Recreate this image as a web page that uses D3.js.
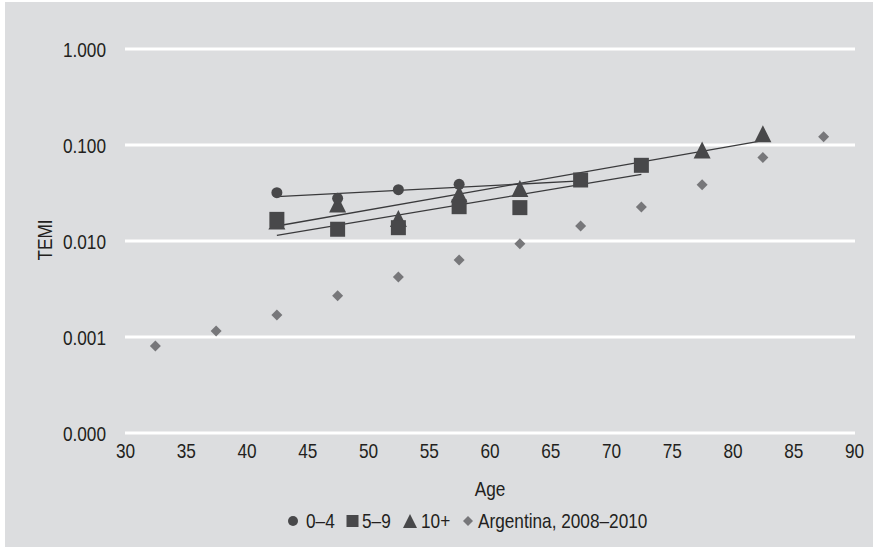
<!DOCTYPE html>
<html>
<head>
<meta charset="utf-8">
<script src="https://cdn.jsdelivr.net/npm/d3@7"></script>
<style>
  html, body { margin: 0; padding: 0; background: #ffffff; }
  svg text { font-family: "Liberation Sans", Arial, sans-serif; fill: #231f20; }
</style>
</head>
<body>
<svg id="chart" width="873" height="547"></svg>
<script>
// Age-group midpoints (years)
const ages = [32.5, 37.5, 42.5, 47.5, 52.5, 57.5, 62.5, 67.5, 72.5, 77.5, 82.5, 87.5];

// TEMI by duration group; null where the group has no value
const temi0to4 = [null, null, 0.0315, 0.0275, 0.0338, 0.0385, null, null, null, null, null, null];
const temi5to9 = [null, null, 0.0166, 0.0131, 0.0136, 0.0225, 0.0220, 0.0427, 0.0607, null, null, null];
const temi10plus = [null, null, 0.0160, 0.0240, 0.0169, 0.0305, 0.0348, null, null, 0.0877, 0.1296, null];
const argentina = [0.000796, 0.00114, 0.00167, 0.00266, 0.00417, 0.00626, 0.00927, 0.01416, 0.0223, 0.0381, 0.0731, 0.1206];

// Exponential trend lines: [age, TEMI] at each end
const trend0to4 = [[42.5, 0.0286], [67.5, 0.0417]];
const trend5to9 = [[42.5, 0.01133], [72.5, 0.0489]];
const trend10plus = [[42.5, 0.01416], [82.5, 0.1096]];

// Axis ticks
const xTicks = [30, 35, 40, 45, 50, 55, 60, 65, 70, 75, 80, 85, 90];
const yTicks = [0.0001, 0.001, 0.01, 0.1, 1];

const legendLabels = ["0\u20134", "5\u20139", "10+", "Argentina, 2008\u20132010"];

const svg = d3.select("#chart");
const W = 873, H = 547;
const FS = 21;          // label font size
const NARROW = 0.82;    // horizontal squeeze for a condensed look

// panel background
svg.append("rect").attr("x", 5).attr("y", 2).attr("width", W - 5).attr("height", H - 2).attr("fill", "#dcdddf");

const x = d3.scaleLinear().domain([30, 90]).range([125, 854]);
const y = d3.scaleLog().domain([0.0001, 1]).range([432.5, 48.5]);

// horizontal gridlines
svg.append("g")
  .attr("transform", "translate(125,0)")
  .call(d3.axisLeft(y).tickValues(yTicks).tickSize(-(855 - 125)).tickFormat(""))
  .call(g => g.select(".domain").remove())
  .call(g => g.selectAll("line").attr("stroke", "#ffffff").attr("stroke-width", 3));

// y tick labels
svg.append("g")
  .attr("transform", "translate(106,0)")
  .call(d3.axisLeft(y).tickValues(yTicks).tickSize(0).tickPadding(0).tickFormat(d3.format(".3f")))
  .call(g => g.select(".domain").remove())
  .call(g => g.selectAll("text").attr("font-size", FS).attr("x", 0).attr("dy", "0.36em")
    .attr("transform", `scale(${NARROW},1)`));

// x tick labels
svg.append("g")
  .attr("transform", "translate(0,442)")
  .call(d3.axisBottom(x).tickValues(xTicks).tickSize(0).tickPadding(0).tickFormat(d3.format("d")))
  .call(g => g.select(".domain").remove())
  .call(g => g.selectAll("text").attr("font-size", FS).attr("dy", "0.75em")
    .attr("transform", `scale(${NARROW},1)`));

// text placed at (px,py) with the condensed squeeze
function label(px, py, str, anchor, rot) {
  return svg.append("text")
    .attr("transform", `translate(${px},${py})${rot ? ` rotate(${rot})` : ""} scale(${NARROW},1)`)
    .attr("text-anchor", anchor || "start")
    .attr("font-size", FS)
    .text(str);
}

// axis titles
label(490, 496, "Age", "middle");
label(52, 240, "TEMI", "middle", -90);

// trend lines
const line = d3.line().x(d => x(d[0])).y(d => y(d[1]));
[trend0to4, trend5to9, trend10plus].forEach(t => {
  svg.append("path").attr("d", line(t)).attr("fill", "none").attr("stroke", "#3a3a3c").attr("stroke-width", 1.3);
});

const dark = "#48484a";
const light = "#77777a";

function pts(vals) {
  return ages.map((a, i) => ({ a, v: vals[i] })).filter(d => d.v != null);
}

// marker shapes centred on their bounding box
const triPath = s => `M0,${-s / 2}L${s / 2},${s / 2}L${-s / 2},${s / 2}Z`;
const diaPath = s => `M0,${-s / 2}L${s / 2},0L0,${s / 2}L${-s / 2},0Z`;

// 10+ triangles
svg.append("g").selectAll("path").data(pts(temi10plus)).join("path")
  .attr("transform", d => `translate(${x(d.a)},${y(d.v)})`)
  .attr("d", triPath(17)).attr("fill", dark);

// 0-4 circles
svg.append("g").selectAll("circle").data(pts(temi0to4)).join("circle")
  .attr("cx", d => x(d.a)).attr("cy", d => y(d.v)).attr("r", 5.5).attr("fill", dark);

// 5-9 squares
svg.append("g").selectAll("rect").data(pts(temi5to9)).join("rect")
  .attr("x", d => x(d.a) - 7.5).attr("y", d => y(d.v) - 7.5)
  .attr("width", 15).attr("height", 15).attr("fill", dark);

// Argentina diamonds
svg.append("g").selectAll("path").data(pts(argentina)).join("path")
  .attr("transform", d => `translate(${x(d.a)},${y(d.v)})`)
  .attr("d", diaPath(11)).attr("fill", light);

// legend
const ly = 521;
svg.append("circle").attr("cx", 293).attr("cy", ly).attr("r", 5).attr("fill", dark);
label(306, 528, legendLabels[0]);
svg.append("rect").attr("x", 346.5).attr("y", ly - 6).attr("width", 12).attr("height", 12).attr("fill", dark);
label(362, 528, legendLabels[1]);
svg.append("path").attr("transform", `translate(410,${ly})`).attr("d", triPath(14)).attr("fill", dark);
label(421, 528, legendLabels[2]);
svg.append("path").attr("transform", `translate(468,${ly})`).attr("d", diaPath(10)).attr("fill", light);
label(478, 528, legendLabels[3]);
</script>
</body>
</html>
